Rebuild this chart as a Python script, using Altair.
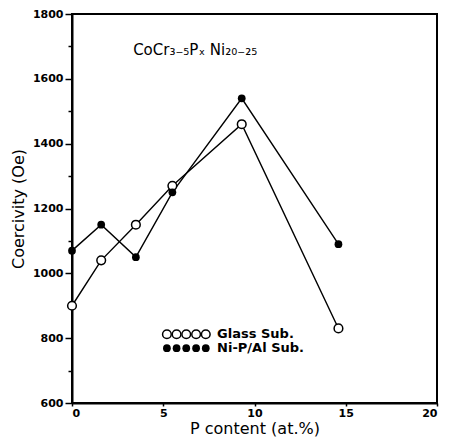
import altair as alt
import pandas as pd

# Data
p_glass = [0, 1.6, 3.5, 5.5, 9.3, 14.6]
hc_glass = [900, 1040, 1150, 1270, 1460, 830]
p_nip = [0, 1.6, 3.5, 5.5, 9.3, 14.6]
hc_nip = [1070, 1150, 1050, 1250, 1540, 1090]

series_names = ["Glass Sub.", "Ni-P/Al Sub."]
legend_x = [5.2, 5.73, 6.26, 6.8, 7.33]
legend_y = [812, 769]
legend_text_x = 7.95
title_text = "CoCr₃₋₅Pₓ Ni₂₀₋₂₅"
title_pos = (3.35, 1688)

FONT = "DejaVu Sans"

df = pd.DataFrame(
    {"p": p_glass + p_nip,
     "hc": hc_glass + hc_nip,
     "series": [series_names[0]] * len(p_glass) + [series_names[1]] * len(p_nip)}
)
glass = df[df.series == series_names[0]]
nip = df[df.series == series_names[1]]

xs = alt.Scale(domain=[0, 20], nice=False)
ys = alt.Scale(domain=[600, 1800], nice=False)

x_axis = alt.Axis(values=[0, 5, 10, 15, 20], title="P content (at.%)", labelFontSize=11,
                  format="d", tickSize=3, labelPadding=1, titlePadding=2)
y_axis = alt.Axis(values=list(range(600, 1801, 100)), title="Coercivity (Oe)", format="d",
                  labelExpr="datum.value % 200 == 0 ? datum.label : ''",
                  tickSize={"condition": {"test": "datum.value % 200 == 0", "value": 7}, "value": 4},
                  labelPadding=2, titlePadding=6)

X = alt.X("p:Q", scale=xs, axis=x_axis)
Y = alt.Y("hc:Q", scale=ys, axis=y_axis)

lines = alt.Chart(df).mark_line(color="black", strokeWidth=1.4).encode(x=X, y=Y, detail="series:N")
open_pts = alt.Chart(glass).mark_point(shape="circle", size=75, filled=True, fill="white",
                                        stroke="black", strokeWidth=1.5, opacity=1).encode(x=X, y=Y)
fill_pts = alt.Chart(nip).mark_point(shape="circle", size=60, filled=True, color="black",
                                      opacity=1).encode(x=X, y=Y)

leg_open = alt.Chart(pd.DataFrame({"p": legend_x, "hc": [legend_y[0]] * 5})).mark_point(
    shape="circle", size=75, filled=True, fill="white", stroke="black", strokeWidth=1.5, opacity=1
).encode(x=X, y=Y)
leg_fill = alt.Chart(pd.DataFrame({"p": legend_x, "hc": [legend_y[1]] * 5})).mark_point(
    shape="circle", size=60, filled=True, color="black", opacity=1
).encode(x=X, y=Y)
leg_text = alt.Chart(pd.DataFrame({"p": [legend_text_x] * 2, "hc": legend_y, "t": series_names})).mark_text(
    align="left", baseline="middle", font=FONT, fontSize=13, fontWeight="bold", color="black"
).encode(x=X, y=Y, text="t:N")
title = alt.Chart(pd.DataFrame({"p": [title_pos[0]], "hc": [title_pos[1]], "t": [title_text]})).mark_text(
    align="left", baseline="middle", font=FONT, fontSize=15, color="black"
).encode(x=X, y=Y, text="t:N")

chart = alt.layer(lines, open_pts, fill_pts, leg_open, leg_fill, leg_text, title).properties(
    width=365, height=389,
    autosize=alt.AutoSizeParams(type="none"),
    padding={"left": 64, "top": 6, "right": 4, "bottom": 36},
    background="white",
).configure_view(stroke="black", strokeWidth=2).configure_axis(
    grid=False, domainColor="black", domainWidth=2, tickColor="black", tickWidth=1.5,
    labelFont=FONT, labelFontWeight="bold", labelFontSize=11, labelColor="black",
    titleFont=FONT, titleFontSize=16, titleFontWeight="normal", titleColor="black",
)

chart.save("out.html", embed_options={"renderer": "svg", "actions": False})
